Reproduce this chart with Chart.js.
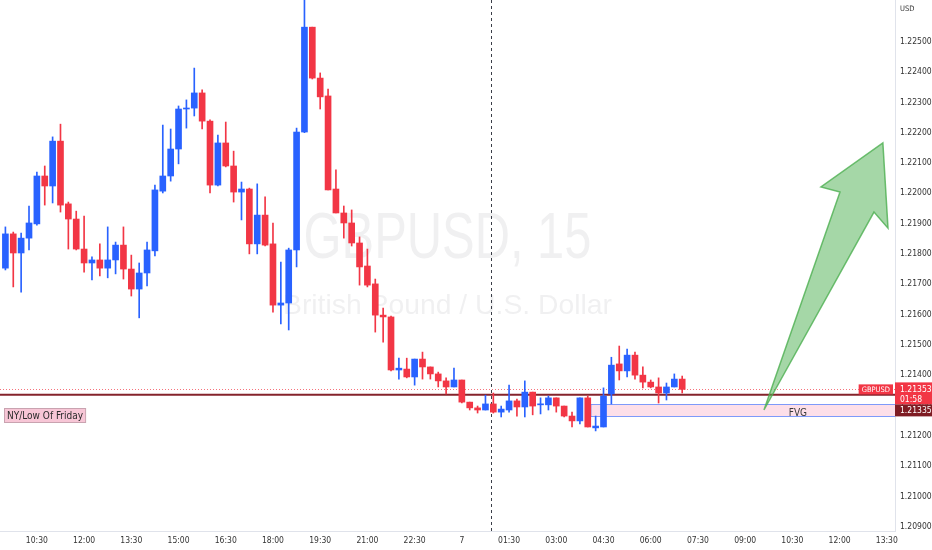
<!DOCTYPE html>
<html><head><meta charset="utf-8">
<script src="https://cdn.jsdelivr.net/npm/chart.js@4"></script>
<style>html,body{margin:0;padding:0;background:#fff;overflow:hidden}canvas{display:block}</style>
</head><body>
<canvas id="c" width="932" height="550"></canvas>
<script>
// ---- data (GBPUSD, 15 min) ----
const opens = [1.21753,1.21866,1.21803,1.21852,1.21899,1.22057,1.22024,1.22172,1.21965,1.21915,
1.21816,1.21770,1.21780,1.21753,1.21780,1.21829,1.21750,1.21684,1.21737,1.21810,
1.22007,1.22057,1.22146,1.22278,1.22281,1.22331,1.22238,1.22027,1.22166,1.22090,
1.22004,1.22014,1.21833,1.21928,1.21833,1.21631,1.21638,1.21813,1.22202,1.22548,
1.22380,1.22321,1.22014,1.21935,1.21902,1.21836,1.21760,1.21701,1.21598,1.21592,
1.21417,1.21420,1.21394,1.21453,1.21427,1.21404,1.21381,1.21361,1.21384,1.21311,
1.21292,1.21285,1.21305,1.21278,1.21285,1.21315,1.21295,1.21344,1.21302,1.21302,
1.21325,1.21298,1.21265,1.21249,1.21325,1.21226,1.21229,1.21338,1.21437,1.21414,
1.21466,1.21400,1.21377,1.21361,1.21341,1.21361,1.21387];
const highs = [1.21889,1.21872,1.21869,1.21958,1.22070,1.22090,1.22186,1.22228,1.21971,1.21941,
1.21925,1.21790,1.21833,1.21889,1.21839,1.21889,1.21796,1.21770,1.21839,1.22027,
1.22225,1.22212,1.22288,1.22308,1.22413,1.22341,1.22242,1.22192,1.22235,1.22139,
1.22037,1.22017,1.22031,1.21988,1.21902,1.21773,1.21819,1.22215,1.22660,1.22548,
1.22397,1.22344,1.22077,1.21958,1.21945,1.21856,1.21816,1.21717,1.21621,1.21595,
1.21456,1.21456,1.21453,1.21476,1.21427,1.21410,1.21391,1.21423,1.21384,1.21311,
1.21298,1.21334,1.21341,1.21298,1.21367,1.21321,1.21381,1.21344,1.21325,1.21331,
1.21325,1.21298,1.21278,1.21325,1.21331,1.21265,1.21358,1.21459,1.21496,1.21486,
1.21476,1.21427,1.21384,1.21391,1.21374,1.21404,1.21397];
const lows = [1.21747,1.21691,1.21674,1.21813,1.21895,1.21961,1.21968,1.21938,1.21816,1.21813,
1.21740,1.21714,1.21727,1.21721,1.21734,1.21717,1.21661,1.21589,1.21694,1.21793,
1.22001,1.22040,1.22097,1.22215,1.22255,1.22212,1.22001,1.22024,1.22087,1.21971,
1.21912,1.21800,1.21800,1.21826,1.21608,1.21569,1.21549,1.21757,1.22200,1.22377,
1.22278,1.22011,1.21935,1.21852,1.21826,1.21697,1.21691,1.21542,1.21509,1.21414,
1.21387,1.21391,1.21367,1.21387,1.21387,1.21361,1.21338,1.21361,1.21308,1.21285,
1.21275,1.21285,1.21275,1.21262,1.21278,1.21265,1.21262,1.21269,1.21272,1.21285,
1.21278,1.21262,1.21229,1.21239,1.21229,1.21216,1.21229,1.21305,1.21384,1.21394,
1.21387,1.21358,1.21358,1.21308,1.21318,1.21361,1.21341];
const closes = [1.21866,1.21803,1.21852,1.21902,1.22057,1.22024,1.22172,1.21961,1.21915,1.21816,
1.21770,1.21780,1.21753,1.21780,1.21829,1.21750,1.21684,1.21737,1.21813,1.22011,
1.22057,1.22146,1.22278,1.22281,1.22331,1.22238,1.22027,1.22166,1.22090,1.22004,
1.22014,1.21833,1.21928,1.21829,1.21631,1.21638,1.21813,1.22202,1.22548,1.22380,
1.22318,1.22011,1.21935,1.21902,1.21836,1.21757,1.21697,1.21598,1.21592,1.21417,
1.21423,1.21394,1.21453,1.21427,1.21404,1.21381,1.21361,1.21384,1.21311,1.21292,
1.21285,1.21305,1.21278,1.21288,1.21315,1.21295,1.21344,1.21298,1.21305,1.21325,
1.21298,1.21265,1.21249,1.21325,1.21229,1.21232,1.21331,1.21433,1.21414,1.21466,
1.21400,1.21377,1.21361,1.21341,1.21361,1.21387,1.21353];

const timeTickIndex = [4,10,16,22,28,34,40,46,52,58,64,70,76,82,88,94,100,106,112];
const timeTickLabels = ['10:30','12:00','13:30','15:00','16:30','18:00','19:30','21:00','22:30','7',
  '01:30','03:00','04:30','06:00','07:30','09:00','10:30','12:00','13:30'];
const priceTicks = [1.209,1.210,1.211,1.212,1.213,1.214,1.215,1.216,1.217,1.218,1.219,1.220,1.221,1.222,1.223,1.224,1.225];

const currentPrice = 1.21353;
const countdown = '01:58';
const fridayLow = 1.21335;
const fridayLabel = 'NY/Low Of Friday';
const fvgTop = 1.21305;
const fvgBottom = 1.21265;
const fvgStart = 74.4;
const fvgLabel = 'FVG';
const fvgLabelAt = 100.7;
const sessionLineIndex = 61.75;
// arrow outline: tip, right barb, right inner, tail, left inner, left barb
const arrowIdx = [111.5, 112.15, 110.37, 96.39, 106.05, 103.63];
const arrowPrice = [1.22166, 1.21885, 1.21938, 1.21285, 1.22004, 1.22021];

const symbol = 'GBPUSD';
const watermarkTitle = 'GBPUSD, 15';
const watermarkSub = 'British Pound / U.S. Dollar';
const currency = 'USD';

// ---- styles ----
const UP = '#2962ff', DOWN = '#f23645';
const NARROW = '"Liberation Sans Narrow","DejaVu Sans Condensed","Liberation Sans",Arial,sans-serif';
const SANS = '"Liberation Sans",Arial,sans-serif';

const colors = closes.map((c, i) => c >= opens[i] ? UP : DOWN);
const bodies = opens.map((o, i) => ({x: i, y: [o, closes[i]]}));
const wicks = lows.map((l, i) => ({x: i, y: [l, highs[i]]}));

function fitText(ctx, text, font, cx, baseline, width) {
  ctx.save();
  ctx.font = font;
  const w = ctx.measureText(text).width;
  ctx.translate(cx, baseline);
  ctx.scale(width / w, 1);
  ctx.textAlign = 'center';
  ctx.textBaseline = 'alphabetic';
  ctx.fillText(text, 0, 0);
  ctx.restore();
}

const overlay = {
  id: 'overlay',
  beforeDatasetsDraw(chart) {
    const {ctx, chartArea: a, scales: {x, y}} = chart;
    ctx.save();
    ctx.beginPath(); ctx.rect(a.left, a.top, a.right - a.left, a.bottom - a.top); ctx.clip();
    const cx = (a.left + a.right) / 2, cy = (a.top + a.bottom) / 2;
    ctx.fillStyle = 'rgba(42,46,57,0.07)';
    fitText(ctx, watermarkTitle, '64px ' + SANS, cx, cy - 8, 288);
    fitText(ctx, watermarkSub, '28px ' + SANS, cx, cy + 48, 329);

    // session dashed line
    const sx = Math.round(x.getPixelForValue(sessionLineIndex)) + 0.5;
    ctx.strokeStyle = '#3a3e48'; ctx.lineWidth = 1; ctx.setLineDash([3, 3]);
    ctx.beginPath(); ctx.moveTo(sx, a.top); ctx.lineTo(sx, a.bottom); ctx.stroke();
    ctx.setLineDash([]);

    // FVG box
    const fx = x.getPixelForValue(fvgStart);
    const ft = Math.round(y.getPixelForValue(fvgTop)) + 0.5;
    const fb = Math.round(y.getPixelForValue(fvgBottom)) + 0.5;
    ctx.fillStyle = 'rgba(242,54,120,0.16)';
    ctx.fillRect(fx, ft, a.right - fx, fb - ft);
    ctx.strokeStyle = 'rgba(41,98,255,0.6)';
    ctx.beginPath();
    ctx.moveTo(a.right, ft); ctx.lineTo(fx, ft); ctx.lineTo(fx, fb); ctx.lineTo(a.right, fb);
    ctx.stroke();

    // current price dotted line
    const cp = Math.round(y.getPixelForValue(currentPrice)) + 0.5;
    ctx.strokeStyle = 'rgba(242,54,69,0.7)'; ctx.setLineDash([1, 2]);
    ctx.beginPath(); ctx.moveTo(a.left, cp); ctx.lineTo(a.right, cp); ctx.stroke();
    ctx.setLineDash([]);

    // Friday low line
    const fl = y.getPixelForValue(fridayLow);
    ctx.strokeStyle = '#85232b'; ctx.lineWidth = 2;
    ctx.beginPath(); ctx.moveTo(a.left, fl); ctx.lineTo(a.right, fl); ctx.stroke();
    ctx.restore();
  },
  afterDatasetsDraw(chart) {
    const {ctx, chartArea: a, scales: {x, y}} = chart;
    ctx.save();
    ctx.beginPath(); ctx.rect(a.left, a.top, a.right - a.left, a.bottom - a.top); ctx.clip();
    // FVG label
    ctx.font = '10px ' + NARROW;
    ctx.fillStyle = '#3a3a3a';
    ctx.textAlign = 'center'; ctx.textBaseline = 'middle';
    ctx.fillText(fvgLabel, x.getPixelForValue(fvgLabelAt), y.getPixelForValue(fvgBottom) - 3);

    // arrow
    ctx.beginPath();
    arrowIdx.forEach((v, i) => {
      const px = x.getPixelForValue(v), py = y.getPixelForValue(arrowPrice[i]);
      if (i === 0) ctx.moveTo(px, py); else ctx.lineTo(px, py);
    });
    ctx.closePath();
    ctx.fillStyle = 'rgba(76,175,80,0.5)';
    ctx.fill();
    ctx.strokeStyle = 'rgba(76,175,80,0.8)'; ctx.lineWidth = 1.5; ctx.lineJoin = 'miter';
    ctx.stroke();

    // Friday low label
    const fl = y.getPixelForValue(fridayLow);
    ctx.font = '10px ' + NARROW;
    const tw = ctx.measureText(fridayLabel).width;
    const bx = a.left + 4.5, by = Math.round(fl + 13) + 0.5;
    ctx.fillStyle = '#f7c6d6';
    ctx.fillRect(bx, by, tw + 5, 14);
    ctx.strokeStyle = '#c9a3b0'; ctx.lineWidth = 1;
    ctx.strokeRect(bx, by, tw + 5, 14);
    ctx.fillStyle = '#2a2a2a'; ctx.textAlign = 'left'; ctx.textBaseline = 'middle';
    ctx.fillText(fridayLabel, bx + 2.5, by + 7.5);

    // symbol label on the price line
    const cp = y.getPixelForValue(currentPrice);
    ctx.font = '7.5px ' + NARROW;
    const sw = ctx.measureText(symbol).width + 6;
    ctx.fillStyle = DOWN;
    ctx.fillRect(a.right - 2 - sw, cp - 5, sw, 10);
    ctx.fillStyle = '#fff'; ctx.textAlign = 'center';
    ctx.fillText(symbol, a.right - 2 - sw / 2, cp + 0.5);
    ctx.restore();
  },
  afterDraw(chart) {
    const {ctx, chartArea: a, scales: {y}, width} = chart;
    ctx.save();
    const cp = y.getPixelForValue(currentPrice);
    ctx.font = '8.5px ' + NARROW;
    ctx.textAlign = 'left'; ctx.textBaseline = 'middle';
    // current price box
    ctx.fillStyle = DOWN;
    ctx.fillRect(a.right, cp - 7, width - a.right, 22);
    // friday low box
    ctx.fillStyle = '#7e1c23';
    ctx.fillRect(a.right, cp + 15, width - a.right, 12);
    ctx.fillStyle = '#fff';
    ctx.fillText(currentPrice.toFixed(5), a.right + 5, cp + 0.5);
    ctx.fillText(countdown, a.right + 5, cp + 10);
    ctx.fillText(fridayLow.toFixed(5), a.right + 5, cp + 21.5);
    // currency
    ctx.fillStyle = '#333';
    ctx.font = '7.5px ' + NARROW;
    ctx.fillText(currency, a.right + 5, 9);
    ctx.restore();
  }
};

new Chart(document.getElementById('c'), {
  type: 'bar',
  data: {
    datasets: [
      {data: bodies, backgroundColor: colors, barThickness: 6, minBarLength: 1, order: 1, grouped: false},
      {data: wicks, backgroundColor: colors, barThickness: 1, order: 2, grouped: false}
    ]
  },
  options: {
    responsive: false,
    devicePixelRatio: 1,
    animation: false,
    layout: {padding: 0},
    plugins: {legend: {display: false}, tooltip: {enabled: false}},
    scales: {
      x: {
        type: 'linear', offset: false, min: -0.686, max: 113.04,
        grid: {display: false, drawTicks: false},
        border: {display: true, color: '#e0e3eb'},
        afterBuildTicks: s => { s.ticks = timeTickIndex.map(v => ({value: v})); },
        afterFit: s => { s.height = 19; s.paddingLeft = 0; s.paddingRight = 0; },
        ticks: {
          autoSkip: false, maxRotation: 0, padding: 5, color: '#333',
          font: {family: NARROW, size: 8.5},
          callback: v => timeTickLabels[timeTickIndex.indexOf(v)] ?? ''
        }
      },
      y: {
        position: 'right', min: 1.208858, max: 1.226376,
        grid: {display: false, drawTicks: false},
        border: {display: true, color: '#e0e3eb'},
        afterBuildTicks: s => { s.ticks = priceTicks.map(v => ({value: v})); },
        afterFit: s => { s.width = 37; s.paddingTop = 0; s.paddingBottom = 0; },
        ticks: {
          padding: 5, color: '#333',
          font: {family: NARROW, size: 8.5},
          callback: v => Number(v).toFixed(5)
        }
      }
    }
  },
  plugins: [overlay]
});
</script>
</body></html>
